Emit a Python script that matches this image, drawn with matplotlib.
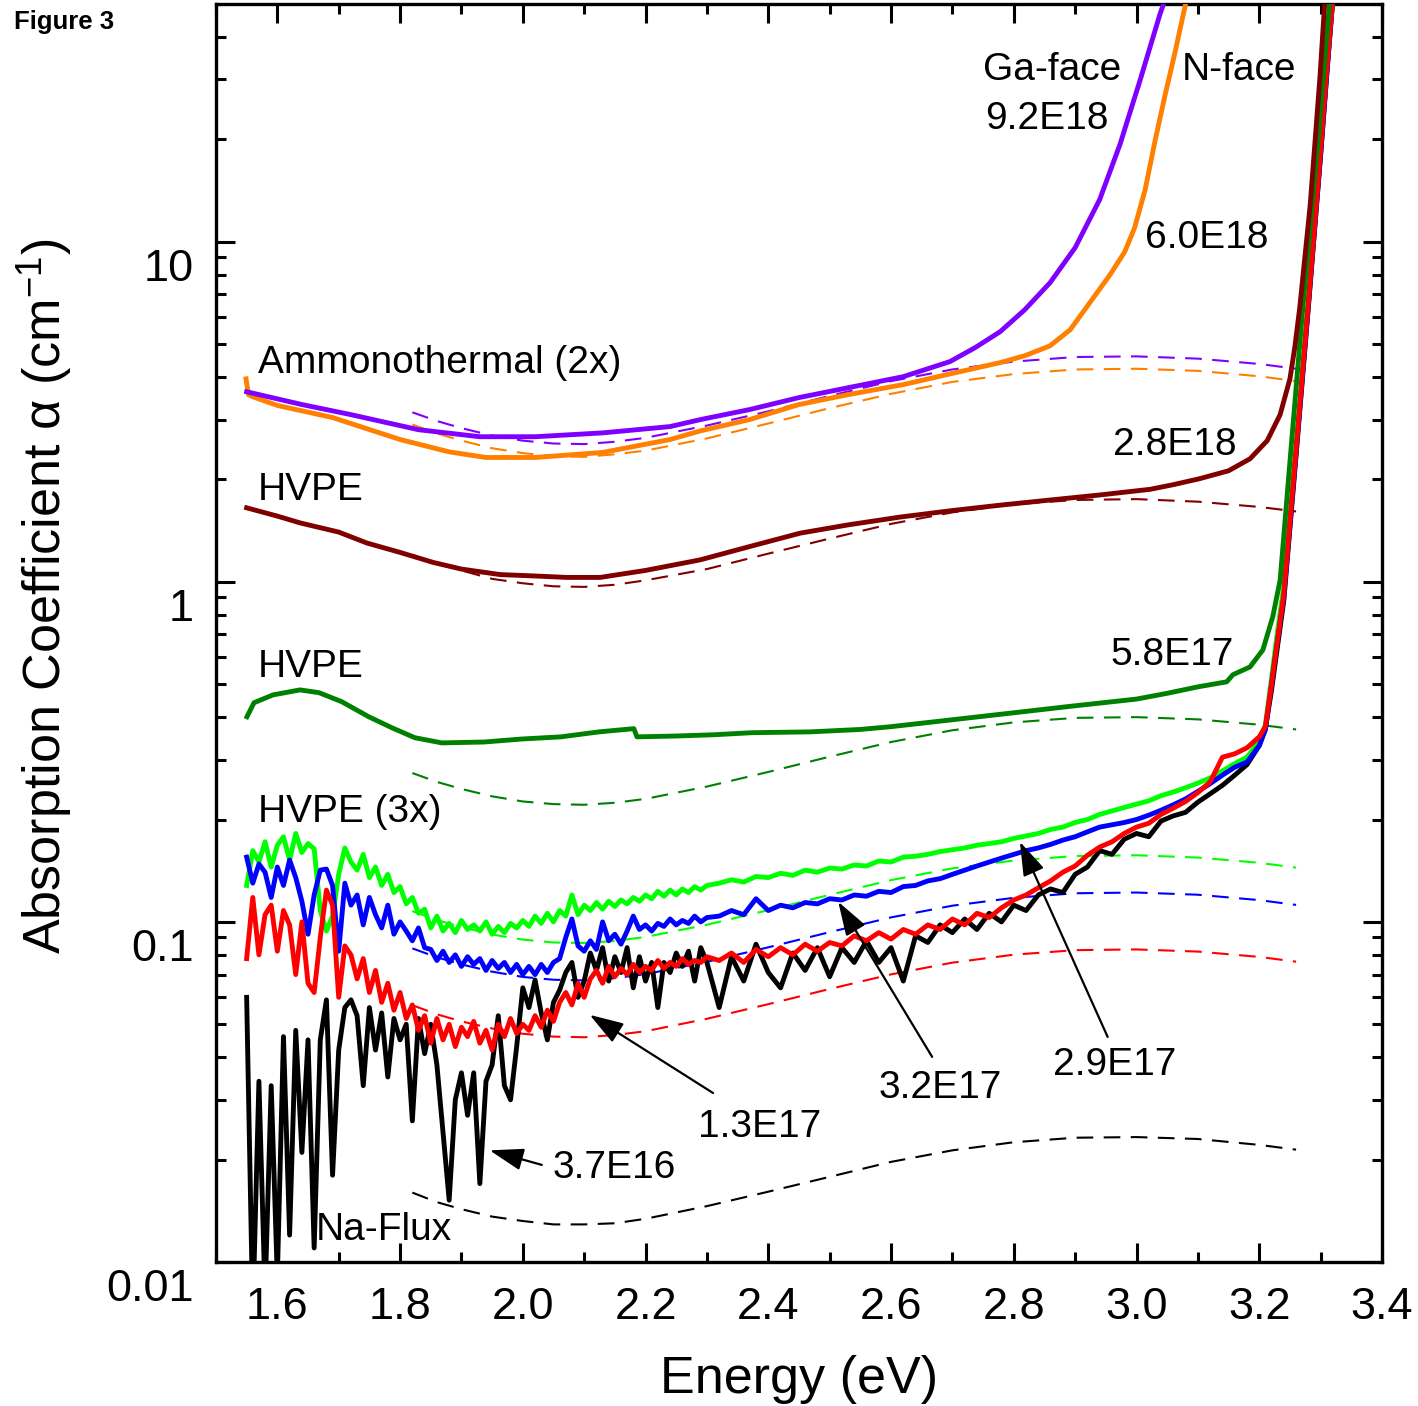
import numpy as np
import matplotlib
matplotlib.use('Agg')
import matplotlib.pyplot as plt
import matplotlib.transforms as mtransforms
from matplotlib.ticker import MultipleLocator, LogLocator, FuncFormatter, NullFormatter, FormatStrFormatter

plt.rcParams['font.family'] = ['Liberation Sans', 'DejaVu Sans']
plt.rcParams['mathtext.fontset'] = 'custom'
plt.rcParams['mathtext.rm'] = 'Liberation Sans'
plt.rcParams['mathtext.it'] = 'Liberation Sans:italic'

# ---- ammonothermal (2x) ----
purple_E = [1.55, 1.60, 1.64, 1.72, 1.83, 1.93, 2.02, 2.13, 2.24, 2.29, 2.37, 2.45, 2.53,
            2.62, 2.696, 2.737, 2.778, 2.818, 2.859, 2.900, 2.940, 2.973, 3.006, 3.038, 3.055]
purple_a = [3.62, 3.45, 3.32, 3.10, 2.80, 2.67, 2.67, 2.74, 2.86, 3.00, 3.21, 3.48, 3.72,
            4.01, 4.44, 4.88, 5.44, 6.31, 7.57, 9.60, 13.3, 19.3, 29.9, 46.5, 57.0]

orange_E = [1.549, 1.553, 1.56, 1.60, 1.69, 1.80, 1.88, 1.94, 2.02, 2.13, 2.24, 2.29, 2.37,
            2.45, 2.53, 2.62, 2.70, 2.778, 2.818, 2.859, 2.892, 2.924, 2.957, 2.981, 2.997,
            3.014, 3.030, 3.046, 3.063, 3.079, 3.087]
orange_a = [3.95, 3.55, 3.50, 3.30, 3.04, 2.62, 2.41, 2.32, 2.32, 2.40, 2.62, 2.78, 3.00,
            3.32, 3.55, 3.80, 4.10, 4.41, 4.62, 4.94, 5.51, 6.62, 8.00, 9.35, 11.0,
            14.2, 19.7, 26.7, 36.2, 49.1, 57.0]

# ---- HVPE ----
maroon_E = [1.55, 1.60, 1.637, 1.70, 1.746, 1.80, 1.854, 1.90, 1.963, 2.02, 2.072, 2.126,
            2.20, 2.289, 2.37, 2.452, 2.53, 2.615, 2.70, 2.778, 2.86, 2.94, 3.022, 3.06,
            3.103, 3.15, 3.185, 3.213, 3.234, 3.25, 3.258, 3.266, 3.283, 3.299, 3.307]
maroon_a = [1.65, 1.56, 1.49, 1.40, 1.30, 1.22, 1.14, 1.09, 1.05, 1.04, 1.03, 1.03,
            1.08, 1.16, 1.27, 1.39, 1.47, 1.55, 1.62, 1.68, 1.74, 1.80, 1.87, 1.93,
            2.01, 2.12, 2.30, 2.60, 3.10, 3.95, 4.90, 6.40, 12.8, 30.6, 51.5]

dgreen_E = [1.5505, 1.562, 1.593, 1.637, 1.668, 1.705, 1.749, 1.787, 1.824, 1.868, 1.937,
            1.999, 2.062, 2.124, 2.181, 2.186, 2.25, 2.311, 2.373, 2.468, 2.55, 2.60, 2.70,
            2.80, 2.90, 3.00, 3.05, 3.10, 3.147, 3.157, 3.185, 3.206, 3.222, 3.234, 3.25,
            3.271, 3.294, 3.315]
dgreen_a = [0.401, 0.441, 0.465, 0.481, 0.472, 0.444, 0.401, 0.372, 0.348, 0.336, 0.338,
            0.345, 0.350, 0.362, 0.370, 0.350, 0.352, 0.355, 0.360, 0.362, 0.368, 0.375, 0.393,
            0.412, 0.432, 0.452, 0.470, 0.491, 0.508, 0.533, 0.562, 0.631, 0.789, 1.01, 2.25,
            6.40, 18.2, 51.5]

# ---- HVPE (3x) and Na-flux: shared energy grids ----
E_LOW = np.round(np.arange(1.55, 2.305, 0.01), 2)
E_MID = np.round(np.arange(2.32, 3.165, 0.02), 2)
E_EDGE = [3.18, 3.20, 3.21, 3.22, 3.23, 3.24, 3.26, 3.28, 3.30, 3.31, 3.32]

lgreen_low = [0.128, 0.162, 0.15, 0.172, 0.145, 0.168, 0.178, 0.152, 0.182, 0.16,
              0.17, 0.164, 0.108, 0.094, 0.104, 0.138, 0.165, 0.15, 0.142, 0.158,
              0.135, 0.145, 0.128, 0.138, 0.122, 0.127, 0.113, 0.118, 0.106, 0.109,
              0.096, 0.104, 0.094, 0.099, 0.093, 0.101, 0.095, 0.098, 0.094, 0.10,
              0.092, 0.097, 0.093, 0.099, 0.096, 0.101, 0.097, 0.104, 0.099, 0.106,
              0.10, 0.108, 0.104, 0.12, 0.105, 0.112, 0.108, 0.114, 0.109, 0.115,
              0.111, 0.116, 0.113, 0.118, 0.115, 0.12, 0.117, 0.123, 0.119, 0.124,
              0.12, 0.125, 0.122, 0.127, 0.124, 0.128]
lgreen_mid = [0.13, 0.133, 0.131, 0.136, 0.135, 0.139, 0.137, 0.142, 0.14, 0.144, 0.143,
              0.147, 0.146, 0.151, 0.150, 0.155, 0.156, 0.158, 0.161, 0.163, 0.165, 0.168,
              0.17, 0.172, 0.176, 0.179, 0.182, 0.187, 0.19, 0.196, 0.2, 0.207, 0.212,
              0.217, 0.222, 0.227, 0.235, 0.241, 0.248, 0.256, 0.265, 0.278, 0.292]
lgreen_edge = [0.305, 0.34, 0.38, 0.52, 0.72, 0.97, 2.5, 6.8, 19, 33, 52]

blue_low = [0.155, 0.13, 0.148, 0.14, 0.118, 0.145, 0.128, 0.152, 0.135, 0.115,
            0.092, 0.12, 0.142, 0.143, 0.128, 0.082, 0.13, 0.112, 0.12, 0.098,
            0.118, 0.105, 0.096, 0.112, 0.092, 0.10, 0.094, 0.088, 0.096, 0.084,
            0.083, 0.077, 0.082, 0.076, 0.08, 0.074, 0.079, 0.075, 0.078, 0.072,
            0.077, 0.073, 0.076, 0.071, 0.075, 0.07, 0.074, 0.07, 0.075, 0.071,
            0.076, 0.078, 0.09, 0.102, 0.085, 0.082, 0.088, 0.083, 0.10, 0.088,
            0.092, 0.086, 0.094, 0.104, 0.095, 0.098, 0.094, 0.099, 0.097, 0.102,
            0.098, 0.101, 0.099, 0.104, 0.10, 0.103]
blue_mid = [0.104, 0.108, 0.105, 0.117, 0.108, 0.112, 0.11, 0.114, 0.113, 0.117, 0.116,
            0.12, 0.119, 0.123, 0.122, 0.127, 0.128, 0.132, 0.134, 0.138, 0.142, 0.146,
            0.15, 0.154, 0.158, 0.162, 0.165, 0.169, 0.174, 0.178, 0.184, 0.19, 0.193,
            0.196, 0.2, 0.206, 0.213, 0.221, 0.23, 0.242, 0.255, 0.27, 0.285]
blue_edge = [0.295, 0.33, 0.367, 0.5, 0.68, 0.9, 2.4, 6.5, 18, 31, 52]

red_low = [0.078, 0.118, 0.08, 0.105, 0.112, 0.082, 0.108, 0.098, 0.07, 0.10,
           0.066, 0.062, 0.09, 0.124, 0.112, 0.06, 0.085, 0.08, 0.068, 0.078,
           0.062, 0.072, 0.058, 0.066, 0.055, 0.062, 0.052, 0.057, 0.048, 0.053,
           0.044, 0.052, 0.045, 0.05, 0.043, 0.049, 0.046, 0.051, 0.044, 0.048,
           0.042, 0.05, 0.046, 0.052, 0.047, 0.05, 0.048, 0.053, 0.049, 0.055,
           0.051, 0.058, 0.062, 0.057, 0.066, 0.06, 0.068, 0.072, 0.066, 0.074,
           0.069, 0.073, 0.07, 0.075, 0.071, 0.074, 0.072, 0.077, 0.073, 0.076,
           0.074, 0.078, 0.075, 0.077, 0.076, 0.079]
red_mid = [0.077, 0.081, 0.076, 0.083, 0.079, 0.084, 0.08, 0.086, 0.082, 0.087, 0.085,
           0.091, 0.088, 0.093, 0.089, 0.095, 0.092, 0.098, 0.095, 0.102, 0.098, 0.106,
           0.103, 0.11, 0.116, 0.12, 0.126, 0.132, 0.14, 0.146, 0.157, 0.166, 0.172,
           0.182, 0.19, 0.195, 0.207, 0.216, 0.226, 0.24, 0.258, 0.305, 0.312]
red_edge = [0.325, 0.35, 0.375, 0.5, 0.68, 0.92, 2.45, 6.6, 18.5, 32, 52]

black_low = [0.06, 0.007, 0.034, 0.008, 0.033, 0.009, 0.046, 0.012, 0.048, 0.021,
             0.045, 0.011, 0.045, 0.059, 0.018, 0.042, 0.056, 0.059, 0.053, 0.033,
             0.056, 0.042, 0.054, 0.035, 0.052, 0.045, 0.05, 0.026, 0.052, 0.041,
             0.05, 0.038, 0.024, 0.0152, 0.03, 0.036, 0.027, 0.036, 0.017, 0.034,
             0.038, 0.053, 0.033, 0.03, 0.043, 0.064, 0.056, 0.0675, 0.054, 0.045,
             0.058, 0.063, 0.071, 0.076, 0.06, 0.067, 0.081, 0.072, 0.084, 0.067,
             0.079, 0.071, 0.084, 0.064, 0.079, 0.067, 0.076, 0.056, 0.076, 0.071,
             0.081, 0.074, 0.082, 0.067, 0.084, 0.076]
black_mid = [0.056, 0.079, 0.067, 0.086, 0.071, 0.064, 0.081, 0.072, 0.084, 0.069, 0.084,
             0.076, 0.088, 0.076, 0.084, 0.067, 0.091, 0.087, 0.098, 0.093, 0.102, 0.095,
             0.106, 0.1, 0.112, 0.108, 0.12, 0.125, 0.122, 0.138, 0.145, 0.162, 0.158,
             0.175, 0.182, 0.178, 0.198, 0.205, 0.21, 0.225, 0.238, 0.252, 0.27]
black_edge = [0.29, 0.33, 0.37, 0.48, 0.65, 0.88, 2.35, 6.4, 18, 31, 52]

# ---- fitted curves (dashed) ----
FIT_E = [1.82, 1.86, 1.90, 1.95, 2.00, 2.05, 2.10, 2.15, 2.20, 2.30, 2.40, 2.50, 2.60,
         2.70, 2.80, 2.90, 3.00, 3.10, 3.20, 3.26]
fit_purple = [3.15, 2.97, 2.83, 2.69, 2.60, 2.55, 2.54, 2.58, 2.65, 2.88, 3.17, 3.52, 3.89,
              4.21, 4.44, 4.58, 4.60, 4.53, 4.37, 4.23]
fit_orange = [2.90, 2.73, 2.60, 2.47, 2.39, 2.34, 2.33, 2.37, 2.43, 2.64, 2.92, 3.24, 3.57,
              3.87, 4.08, 4.21, 4.23, 4.17, 4.02, 3.89]
fit_maroon = [1.20, 1.13, 1.08, 1.02, 0.99, 0.97, 0.966, 0.98, 1.01, 1.09, 1.21, 1.34, 1.48,
              1.60, 1.69, 1.74, 1.75, 1.72, 1.66, 1.61]
fit_dgreen = [0.274, 0.258, 0.246, 0.234, 0.226, 0.222, 0.221, 0.224, 0.230, 0.250, 0.276,
              0.306, 0.338, 0.366, 0.386, 0.398, 0.400, 0.394, 0.380, 0.368]
fit_lgreen = [0.1075, 0.1013, 0.0966, 0.0918, 0.0887, 0.0870, 0.0867, 0.0879, 0.0903, 0.0981,
              0.1083, 0.1201, 0.1327, 0.1437, 0.1515, 0.1562, 0.157, 0.1546, 0.1492, 0.1444]
fit_blue = [0.0836, 0.0787, 0.0750, 0.0714, 0.0689, 0.0676, 0.0673, 0.0683, 0.0702, 0.0763,
            0.0842, 0.0933, 0.1031, 0.1116, 0.1177, 0.1214, 0.122, 0.1202, 0.1159, 0.1122]
fit_red = [0.0569, 0.0535, 0.0510, 0.0486, 0.0469, 0.0460, 0.0458, 0.0465, 0.0477, 0.0519,
           0.0573, 0.0635, 0.0701, 0.0759, 0.0801, 0.0826, 0.083, 0.0818, 0.0789, 0.0764]
fit_black = [0.0160, 0.0150, 0.0143, 0.0136, 0.0132, 0.0129, 0.0129, 0.0130, 0.0134, 0.0146,
             0.0161, 0.0178, 0.0197, 0.0213, 0.0225, 0.0232, 0.0233, 0.0230, 0.0221, 0.0214]

C_PURPLE = '#8000ff'
C_ORANGE = '#ff8000'
C_MAROON = '#800000'
C_DGREEN = '#008000'
C_LGREEN = '#00ff00'
C_BLUE = '#0000ff'
C_RED = '#ff0000'
C_BLACK = '#000000'

fig = plt.figure(figsize=(14.18, 14.06), dpi=100)
ax = fig.add_axes([0.1523, 0.1024, 0.8223, 0.8948])

# dashed fits
for vals, c in [(fit_purple, C_PURPLE), (fit_orange, C_ORANGE), (fit_maroon, C_MAROON),
                (fit_dgreen, C_DGREEN), (fit_lgreen, C_LGREEN), (fit_blue, C_BLUE),
                (fit_red, C_RED), (fit_black, C_BLACK)]:
    ax.plot(FIT_E, vals, color=c, lw=1.5, dashes=(8, 5), zorder=2)

# measured spectra
noisy = [(black_low, black_mid, black_edge, C_BLACK),
         (lgreen_low, lgreen_mid, lgreen_edge, C_LGREEN),
         (blue_low, blue_mid, blue_edge, C_BLUE),
         (red_low, red_mid, red_edge, C_RED)]
for lo, mid, edge, c in noisy:
    E = np.concatenate([E_LOW, E_MID, E_EDGE])
    a = np.concatenate([lo, mid, edge])
    ax.plot(E, a, color=c, lw=3.5, zorder=3, solid_joinstyle='round')

ax.plot(dgreen_E, dgreen_a, color=C_DGREEN, lw=3.5, zorder=4)
ax.plot(maroon_E, maroon_a, color=C_MAROON, lw=3.5, zorder=4)
ax.plot(orange_E, orange_a, color=C_ORANGE, lw=3.5, zorder=4)
ax.plot(purple_E, purple_a, color=C_PURPLE, lw=3.5, zorder=4)

ax.set_yscale('log')
ax.set_xlim(1.5, 3.4)
ax.set_ylim(0.01, 50)

ax.xaxis.set_major_locator(MultipleLocator(0.2))
ax.xaxis.set_minor_locator(MultipleLocator(0.1))
ax.xaxis.set_major_formatter(FormatStrFormatter('%.1f'))
ax.yaxis.set_major_locator(LogLocator(base=10))
ax.yaxis.set_minor_locator(LogLocator(base=10, subs=np.arange(2, 10)))
ax.yaxis.set_major_formatter(FuncFormatter(lambda v, p: f'{v:g}'))
ax.yaxis.set_minor_formatter(NullFormatter())

ax.tick_params(which='both', direction='in', top=True, right=True, width=2.2, labelsize=32.5)
ax.tick_params(which='major', length=14)
ax.tick_params(which='minor', length=7)
ax.tick_params(axis='x', which='major', pad=18)
ax.tick_params(axis='y', which='major', pad=16)
for s in ax.spines.values():
    s.set_linewidth(2.4)

# y tick labels sit a little below their ticks in the original
shift = mtransforms.ScaledTranslation(0, -0.23, fig.dpi_scale_trans)
for lab in ax.get_yticklabels():
    lab.set_transform(lab.get_transform() + shift)

ax.set_xlabel('Energy (eV)', fontsize=37.5)
ax.set_ylabel('Absorption Coefficient α (cm$^{\\mathregular{-1}}$)', fontsize=37.5)
ax.xaxis.set_label_coords(0.5, -0.0736)
ax.yaxis.set_label_coords(-0.1206, 0.529)

fs = 28
ax.text(1.568, 4.12, 'Ammonothermal (2x)', fontsize=fs, va='baseline')
ax.text(1.568, 1.74, 'HVPE', fontsize=fs, va='baseline')
ax.text(1.568, 0.526, 'HVPE', fontsize=fs, va='baseline')
ax.text(1.568, 0.197, 'HVPE (3x)', fontsize=fs, va='baseline')
ax.text(1.663, 0.0116, 'Na-Flux', fontsize=fs, va='baseline')
ax.text(2.750, 29.9, 'Ga-face', fontsize=fs, va='baseline')
ax.text(2.753, 21.4, '9.2E18', fontsize=fs, va='baseline')
ax.text(3.074, 29.9, 'N-face', fontsize=fs, va='baseline')
ax.text(3.014, 9.6, '6.0E18', fontsize=fs, va='baseline')
ax.text(2.962, 2.36, '2.8E18', fontsize=fs, va='baseline')
ax.text(2.957, 0.570, '5.8E17', fontsize=fs, va='baseline')
ax.text(2.049, 0.01766, '3.7E16', fontsize=fs, va='baseline')
ax.text(2.285, 0.0233, '1.3E17', fontsize=fs, va='baseline')
ax.text(2.579, 0.0304, '3.2E17', fontsize=fs, va='baseline')
ax.text(2.864, 0.0355, '2.9E17', fontsize=fs, va='baseline')

arrow = dict(arrowstyle='-|>,head_length=0.55,head_width=0.18', mutation_scale=38,
             lw=1.6, color='k', shrinkA=0, shrinkB=0)
ax.annotate('', xy=(1.946, 0.0213), xytext=(2.031, 0.0193), arrowprops=arrow)
ax.annotate('', xy=(2.109, 0.0533), xytext=(2.310, 0.0314), arrowprops=arrow)
ax.annotate('', xy=(2.514, 0.1146), xytext=(2.667, 0.0401), arrowprops=arrow)
ax.annotate('', xy=(2.810, 0.172), xytext=(2.953, 0.0459), arrowprops=arrow)

fig.text(14 / 1418, 1 - 10 / 1406, 'Figure 3', fontsize=18.5, fontweight='bold', va='top')

fig.savefig('out.png', dpi=100)
